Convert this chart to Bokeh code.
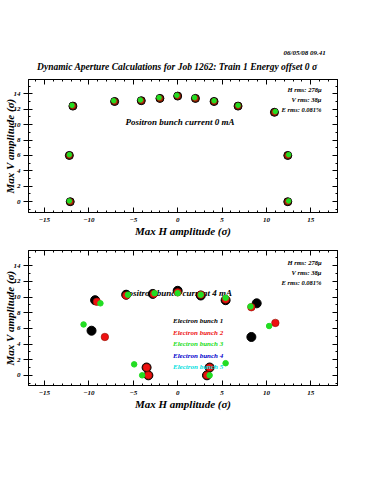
from bokeh.plotting import figure
from bokeh.layouts import column
from bokeh.models import (LinearAxis, SingleIntervalTicker, Label, Legend, LegendItem,
                          Range1d)
from bokeh.embed import file_html
from bokeh.resources import INLINE

# ---------------- data ----------------
title_text = "Dynamic Aperture Calculations for Job 1262: Train 1  Energy offset 0 \u03c3"
date_text = "06/05/08  09.41"
rms_lines = ["H rms: 278\u03bc", "V rms: 38\u03bc", "E rms: 0.081%"]
top_current = "Positron bunch current  0 mA"
bot_current = "Positron bunch current  4 mA"
x_title = "Max H amplitude (\u03c3)"
y_title = "Max V amplitude (\u03c3)"
bunch_names = ["Electron bunch 1", "Electron bunch 2", "Electron bunch 3",
               "Electron bunch 4", "Electron bunch 5"]
bunch_colors = ["#000000", "#ee1111", "#22dd22", "#0000cc", "#00e0e0"]

# zero current (bunches 1 and 2 coincide, bunch 3 nearly)
top12_x = [-12.1, -12.2, -11.8, -7.1, -4.1, -2.0, 0.0, 2.0, 4.1, 6.8, 10.9, 12.4, 12.4]
top12_y = [0.0, 6.0, 12.4, 13.0, 13.1, 13.4, 13.7, 13.4, 13.0, 12.4, 11.6, 6.0, 0.0]
top3_x = [-12.2, -12.2, -11.9, -7.2, -4.2, -2.1, -0.1, 1.9, 4.1, 6.8, 11.0, 12.5, 12.5]
top3_y = [0.1, 6.1, 12.5, 13.1, 13.2, 13.5, 13.8, 13.5, 13.1, 12.5, 11.7, 6.1, 0.1]

# 4 mA current
b1_x = [-9.3, -9.7, -5.8, -2.8, 0.0, 2.6, 5.4, 8.9, 8.3, -3.5, -3.3, 3.6, 3.3]
b1_y = [9.6, 5.7, 10.3, 10.4, 10.8, 10.2, 9.6, 9.2, 4.9, 1.0, 0.0, 1.0, 0.0]
b2_x = [-9.1, -8.2, -5.8, -2.7, 0.0, 2.6, 5.4, 8.3, 11.0, -3.5, -3.3, 3.6, 3.3]
b2_y = [9.4, 4.9, 10.2, 10.4, 10.6, 10.3, 9.7, 8.7, 6.7, 1.0, 0.0, 1.0, 0.0]
b3_x = [-8.7, -10.6, -5.6, -2.6, 0.0, 2.6, 5.4, 8.2, 10.3, -4.9, -4.0, 5.4, 3.6]
b3_y = [9.2, 6.5, 10.3, 10.5, 10.5, 10.3, 9.9, 8.8, 6.3, 1.4, 0.0, 1.55, 0.0]

FONT = "Liberation Serif"
STYLE = "bold italic"
W = 375


def style_axes(p):
    p.xaxis.visible = False
    p.yaxis.visible = False
    p.grid.visible = False
    p.outline_line_color = "black"
    p.outline_line_width = 1
    xt = SingleIntervalTicker(interval=5, num_minor_ticks=5)
    yt = SingleIntervalTicker(interval=2, num_minor_ticks=2)
    for loc in ["below", "above", "left", "right"]:
        tick = xt if loc in ("below", "above") else yt
        ax = LinearAxis(ticker=tick)
        ax.axis_line_color = "black"
        ax.major_tick_line_color = "black"
        ax.minor_tick_line_color = "black"
        ax.major_label_text_font = FONT
        ax.major_label_text_font_style = STYLE
        ax.major_label_text_font_size = "7px"
        ax.major_label_text_color = "black"
        ax.axis_label_text_font = FONT
        ax.axis_label_text_font_style = STYLE
        ax.axis_label_text_font_size = "11px"
        ax.axis_label_text_color = "black"
        ax.minor_tick_out = 0
        ax.minor_tick_in = 2
        if loc == "left":
            ax.major_tick_out = 5
            ax.major_tick_in = 4
            ax.major_label_standoff = 3
            ax.axis_label = y_title
            ax.axis_label_standoff = -5
        elif loc == "below":
            ax.major_tick_out = 0
            ax.major_tick_in = 5
            ax.major_label_standoff = 5
            ax.axis_label = x_title
            ax.axis_label_standoff = 0
        else:
            ax.major_tick_out = 0
            ax.major_tick_in = 5
            ax.major_label_text_font_size = "1px"
            ax.major_label_text_color = None
            ax.major_label_standoff = 0
        p.add_layout(ax, loc)


def add_text(p, x, y, text, size, align="center", baseline="middle",
             level="annotation", color="black"):
    lab = Label(x=x, y=y, text=text, text_font=FONT, text_font_style=STYLE,
                text_font_size=size, text_align=align, text_baseline=baseline,
                text_color=color, level=level)
    p.add_layout(lab)


# ---------------- header (title + date) ----------------
HDR = 75
hdr = figure(width=W, height=HDR, x_range=Range1d(0, W), y_range=Range1d(HDR, 0),
             x_axis_type=None, y_axis_type=None, output_backend="svg",
             toolbar_location=None, min_border=0, outline_line_color=None,
             background_fill_color="white", border_fill_color="white")
hdr.grid.visible = False
add_text(hdr, 182, 66.5, title_text, "9.5px")
add_text(hdr, 363, 52, date_text, "7px", align="right")

# ---------------- top panel ----------------
p1 = figure(width=W, height=166, x_range=(-16.8, 18.0), y_range=(-1.4, 15.85),
            output_backend="svg", toolbar_location=None,
            min_border_left=28, min_border_right=38, min_border_top=4,
            min_border_bottom=29, background_fill_color="white",
            border_fill_color="white")
style_axes(p1)

add_text(p1, 0.4, 10.4, top_current, "9px", level="underlay")
for txt, yy in zip(rms_lines, [14.56, 13.27, 11.98]):
    add_text(p1, 16.2, yy, txt, "6.5px", align="right", level="underlay")

p1.scatter(top12_x, top12_y, size=8, fill_color="black", line_color="black")
p1.scatter(top12_x, top12_y, size=6.5, fill_color="#b8300c", line_color="#5a1000",
           line_width=0.8)
p1.scatter(top3_x, top3_y, size=4.5, fill_color="#22dd22", line_color="#22dd22")

# ---------------- bottom panel ----------------
p2 = figure(width=W, height=173, x_range=(-16.8, 18.0), y_range=(-1.3, 15.95),
            output_backend="svg", toolbar_location=None,
            min_border_left=28, min_border_right=38, min_border_top=9,
            min_border_bottom=29, background_fill_color="white",
            border_fill_color="white")
style_axes(p2)

add_text(p2, 0.1, 10.5, bot_current, "9px", level="underlay")
for txt, yy in zip(rms_lines, [14.47, 13.2, 11.9]):
    add_text(p2, 16.2, yy, txt, "6.5px", align="right", level="underlay")

p2.scatter(b1_x, b1_y, size=9, fill_color=bunch_colors[0], line_color=bunch_colors[0])
p2.scatter(b2_x, b2_y, size=7.5, fill_color=bunch_colors[1], line_color="#901000",
           line_width=0.6)
p2.scatter(b3_x, b3_y, size=5.5, fill_color=bunch_colors[2], line_color=bunch_colors[2])

legend_y = [60, 48.5, 37, 25.5, 14]
for name, col, ly in zip(bunch_names, bunch_colors, legend_y):
    r = p2.line(x=[], y=[], line_color=col, line_width=1)
    lg = Legend(items=[LegendItem(label=name, renderers=[r])], location=(115, ly),
                border_line_color=None, background_fill_alpha=0, padding=0, margin=0,
                spacing=0, glyph_width=20, glyph_height=8, label_height=8,
                label_standoff=10, label_text_font=FONT, label_text_font_style=STYLE,
                label_text_font_size="7px", label_text_color=col)
    p2.add_layout(lg, "center")

layout = column(hdr, p1, p2, spacing=0)
open("out.html", "w").write(file_html(layout, INLINE))
